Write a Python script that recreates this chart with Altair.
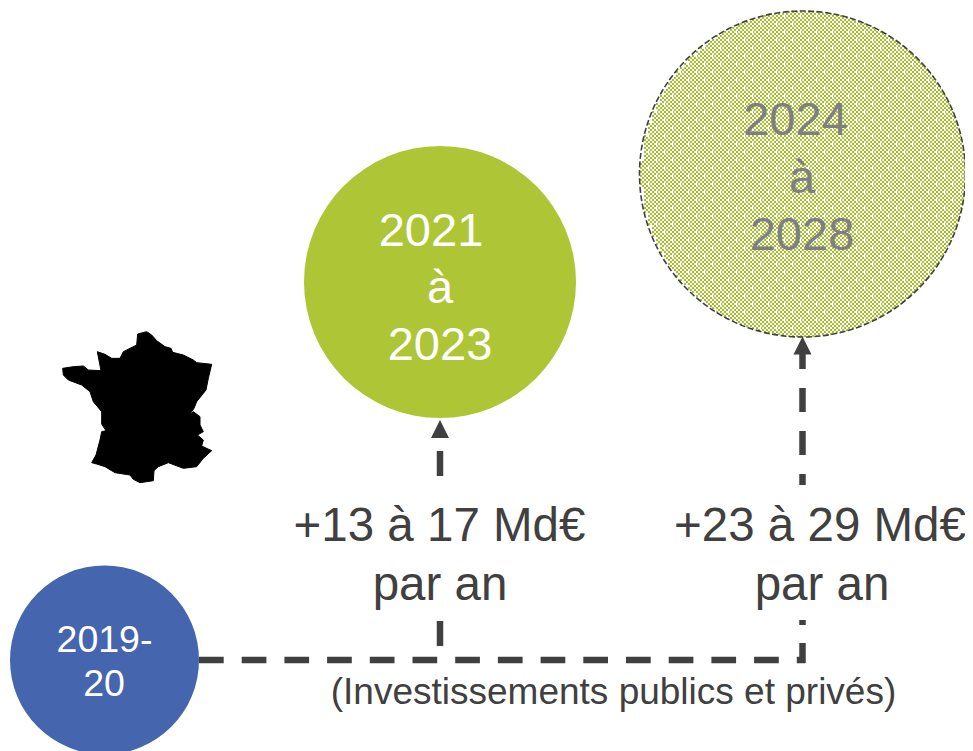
import math
import altair as alt
import pandas as pd

# Picture coordinates (px) of the diagram
CHART_W, CHART_H = 957, 743

solid_cx = [104.5, 440]
solid_cy = [660, 282]
solid_r = [94.5, 136]
solid_col = ["#4566AE", "#AEC636"]

big_cx, big_cy, big_r = 802.5, 174, 163
GREEN = "#A3BF2A"
DARK = "#404040"

seg_x = [440, 440, 802.5, 802.5, 802.5, 802.5, 802.5, 802.5]
seg_y1 = [451, 621, 344, 388, 431, 474, 620, 643]
seg_y2 = [476, 646, 369, 412, 455, 485, 625, 663]

arrow_x = [440, 802.5]
arrow_y = [429, 345.5]

text_s = ["2021", "à", "2023", "2024", "à", "2028", "2019-", "20",
          "+13 à 17 Md€", "par an", "+23 à 29 Md€", "par an",
          "(Investissements publics et privés)"]
text_x = [431, 440, 440, 795.5, 802, 802, 104.5, 104, 439.5, 440, 820, 822, 613.5]
text_y = [246, 303, 360, 135, 193, 250, 652, 696, 541, 600, 541, 600, 704]
text_size = [47, 47, 47, 47, 47, 47, 37.5, 37.5, 47.5, 47.5, 47.5, 47.5, 37]
text_col = ["#FFFFFF"] * 3 + ["#7F7F7F"] * 3 + ["#FFFFFF"] * 2 + [DARK] * 5

fr_zx = [293,320,335,350,375,393,398,430,460,470,515,505,498,470,462,445,460,480,480,490,472,490,485,515,490,470,430,385,355,342,340,300,280,270,225,195,170,155,168,180,185,198,185,185,160,150,125,85,70,68,100,130,145,183,172,195,215,240,250,290,293]
fr_zy = [42,35,45,62,80,85,97,105,120,128,133,175,210,245,265,290,275,290,315,335,345,360,378,392,415,440,445,428,440,452,482,488,478,465,458,440,432,428,405,360,335,332,312,275,245,215,195,180,165,145,140,138,150,152,95,103,115,115,95,75,42]

X = alt.Scale(domain=[8, 8 + CHART_W], nice=False, zero=False)
Y = alt.Scale(domain=[8 + CHART_H, 8], nice=False, zero=False)
xe = alt.X("x:Q", scale=X, axis=None)
ye = alt.Y("y:Q", scale=Y, axis=None)

solid = pd.DataFrame({"x": solid_cx, "y": solid_cy,
                      "s": [4 * r * r for r in solid_r], "c": solid_col})
solid_layer = alt.Chart(solid).mark_circle(opacity=1).encode(
    x=xe, y=ye, size=alt.Size("s:Q", scale=None), color=alt.Color("c:N", scale=None))

# checker texture of the large circle
rows = []
for yy in range(12, 337, 2):
    d = yy - big_cy
    half = math.sqrt(max(big_r ** 2 - d ** 2, 0))
    phase = 2 * ((yy // 2) % 2)
    x1 = 4 * math.ceil((big_cx - half) / 4) + phase
    rows.append({"x": x1, "x2": big_cx + half, "y": yy})
tex = alt.Chart(pd.DataFrame(rows)).mark_rule(
    color=GREEN, strokeWidth=2, strokeDash=[2, 2]).encode(x=xe, x2="x2:Q", y=ye)

dots = []
for j, yy in enumerate(range(16, 336, 8)):
    for xx in range(640 + (8 if j % 2 else 0), 968, 16):
        if (xx - big_cx) ** 2 + (yy - big_cy) ** 2 < (big_r - 3) ** 2:
            dots.append({"x": xx, "y": yy})
dot_layer = alt.Chart(pd.DataFrame(dots)).mark_square(
    color="#FFFFFF", size=4, opacity=1).encode(x=xe, y=ye)

outline = alt.Chart(pd.DataFrame({"x": [big_cx], "y": [big_cy]})).mark_point(
    shape="circle", filled=False, stroke=DARK, strokeWidth=1.6, strokeDash=[6, 2.5],
    size=4 * big_r ** 2, opacity=1).encode(x=xe, y=ye)

fr = pd.DataFrame({"x": [40 + v / 3 for v in fr_zx], "y": [320 + v / 3 for v in fr_zy],
                   "i": list(range(len(fr_zx)))})
france = alt.Chart(fr).mark_line(color="#000000", fill="#000000", strokeWidth=1).encode(
    x=xe, y=ye, order="i:Q")

segs = alt.Chart(pd.DataFrame({"x": seg_x, "y": seg_y1, "y2": seg_y2})).mark_rule(
    color=DARK, strokeWidth=6.5).encode(x=xe, y=ye, y2="y2:Q")

hline = alt.Chart(pd.DataFrame({"x": [199], "x2": [805], "y": [660]})).mark_rule(
    color=DARK, strokeWidth=6.5, strokeDash=[24.7, 18]).encode(x=xe, x2="x2:Q", y=ye)

arrows = alt.Chart(pd.DataFrame({"x": arrow_x, "y": arrow_y})).mark_point(
    shape="M0,-1L1,1L-1,1Z", filled=True, fill=DARK, stroke=None, size=324, opacity=1
).encode(x=xe, y=ye)

txt = pd.DataFrame({"t": text_s, "x": text_x, "y": text_y, "s": text_size, "c": text_col})
labels = alt.Chart(txt).mark_text(font="Liberation Sans", align="center",
                                  baseline="alphabetic").encode(
    x=xe, y=ye, text="t:N", size=alt.Size("s:Q", scale=None), color=alt.Color("c:N", scale=None))

chart = alt.layer(solid_layer, tex, dot_layer, outline, france, segs, hline, arrows, labels).resolve_scale(
    size="independent", color="independent"
).properties(
    width=CHART_W, height=CHART_H, padding=0, autosize=alt.AutoSizeParams(type="none")
).configure_view(stroke=None)

chart.save("out.html", embed_options={"renderer": "svg", "actions": False})
